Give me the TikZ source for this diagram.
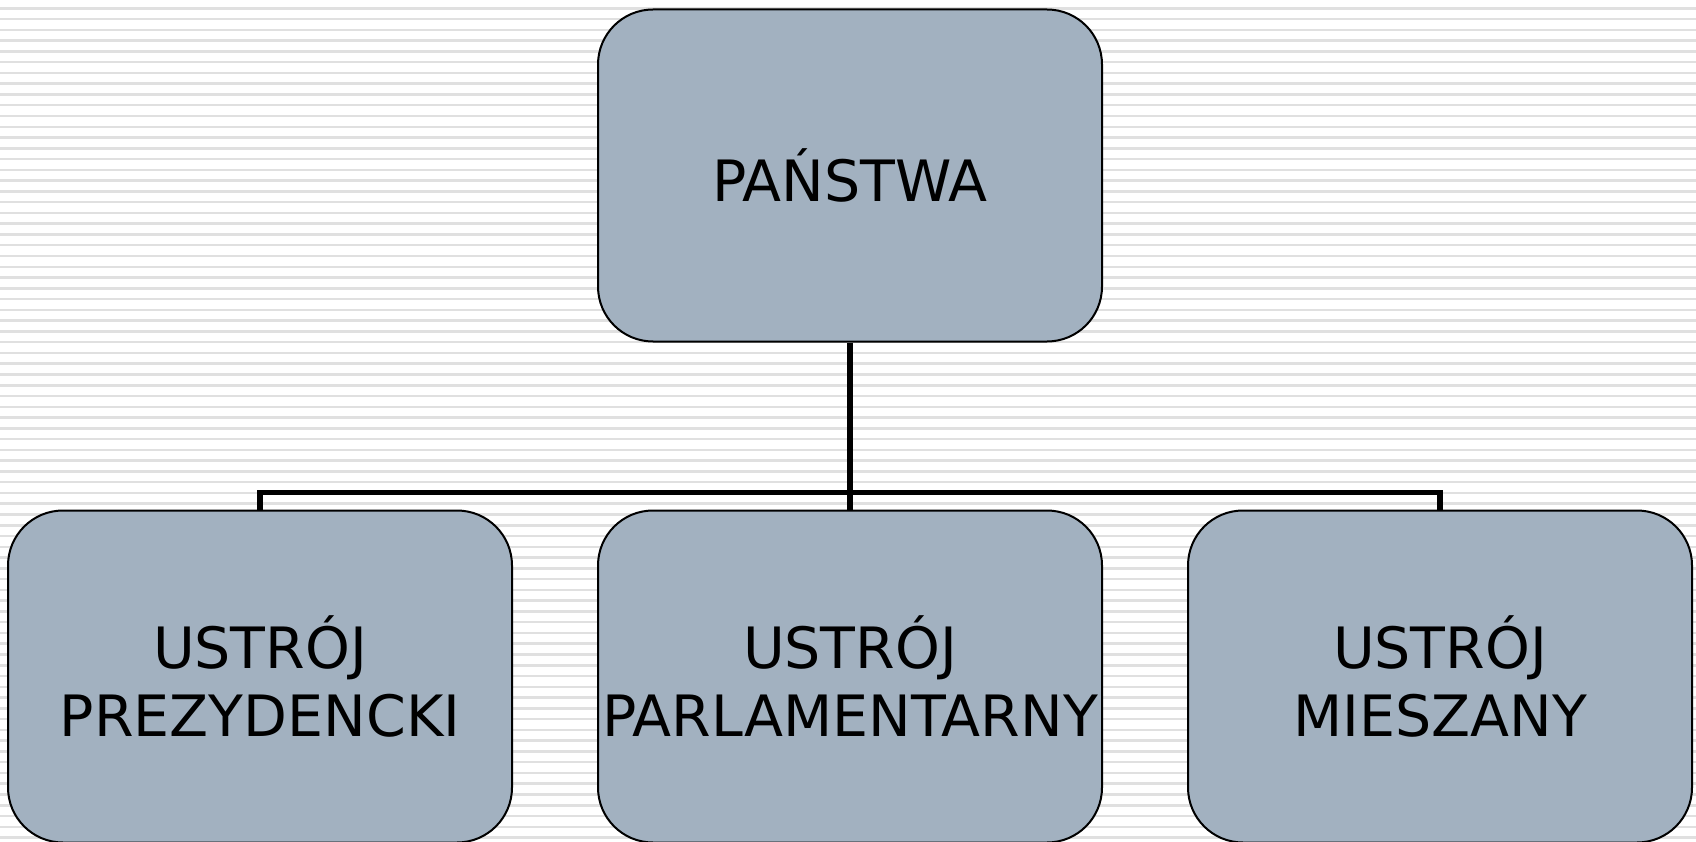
\documentclass[tikz,border=0pt]{standalone}
\usepackage{fontspec}
\setmainfont{DejaVu Sans}
\usepackage{tikz}
\usetikzlibrary{positioning}

\definecolor{boxfill}{RGB}{162,177,192}
\definecolor{stripegray}{RGB}{224,224,224}

\tikzset{
  stripe/.style={draw=stripegray, line width=2.5pt},
  ustroj/.style={draw, line width=2pt, rounded corners=55pt, fill=boxfill,
    minimum width=504pt, minimum height=332pt, inner sep=0pt, align=center,
    font=\fontsize{57}{68}\selectfont},
  bus/.style={draw, line width=5.5pt}
}

\begin{document}
\begin{tikzpicture}[x=1pt,y=-1pt]
\useasboundingbox (0,0) rectangle (1696,842);
\fill[white] (0,0) rectangle (1696,842);
\foreach \i in {0,...,77}
  \draw[stripe] (0,{8.3+10.77*\i}) -- (1696,{8.3+10.77*\i});

\node[ustroj] (panstwa) at (850,175.5) {PAŃSTWA};
\node[ustroj] (parl) [below=167pt of panstwa] {USTRÓJ\\PARLAMENTARNY};
\node[ustroj] (prez) [left=84pt of parl] {USTRÓJ\\PREZYDENCKI};
\node[ustroj] (miesz) [right=84pt of parl] {USTRÓJ\\MIESZANY};

\draw[bus] (panstwa.south) -- (parl.north);
\draw[bus] (prez.north) -- ++(0,17pt) -| (miesz.north);
\end{tikzpicture}
\end{document}
